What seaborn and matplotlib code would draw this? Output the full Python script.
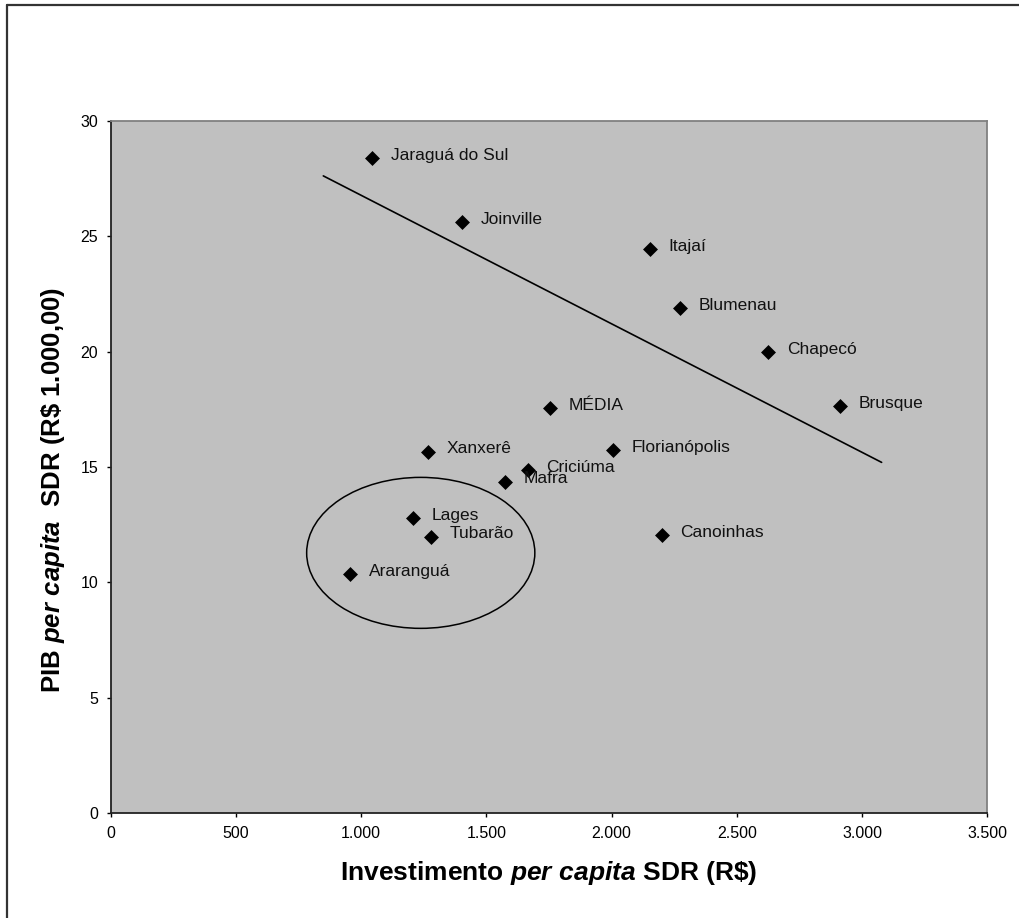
import matplotlib
matplotlib.use("Agg")
import matplotlib.pyplot as plt
from matplotlib.patches import Ellipse
from matplotlib.lines import Line2D
import seaborn as sns
import pandas as pd

# Regiões (SDR): investimento per capita (R$) x PIB per capita (R$ 1.000,00)
cities = ["Jaraguá do Sul", "Joinville", "Itajaí", "Blumenau", "Chapecó",
          "Brusque", "MÉDIA", "Florianópolis", "Xanxerê", "Criciúma",
          "Mafra", "Lages", "Tubarão", "Araranguá", "Canoinhas"]
investimento = [1043, 1403, 2153, 2273, 2625, 2911, 1754, 2004, 1268, 1665,
                1574, 1206, 1279, 955, 2200]
pib = [28.38, 25.61, 24.43, 21.87, 19.97, 17.65, 17.55, 15.73, 15.66, 14.87,
       14.36, 12.78, 11.98, 10.35, 12.05]

# reta de referência desenhada sobre o gráfico
trend_x = [849, 3078]
trend_y = [27.61, 15.20]

# grupo destacado (Lages, Tubarão, Araranguá)
group_center = (1238, 11.28)
group_size = (911, 6.54)

x_ticks = [0, 500, 1000, 1500, 2000, 2500, 3000, 3500]
x_tick_labels = ["0", "500", "1.000", "1.500", "2.000", "2.500", "3.000", "3.500"]
y_ticks = [0, 5, 10, 15, 20, 25, 30]
y_tick_labels = ["0", "5", "10", "15", "20", "25", "30"]

df = pd.DataFrame({"cidade": cities, "invest": investimento, "pib": pib})
trend = pd.DataFrame({"x": trend_x, "y": trend_y})

sns.set_theme(style="white")
plt.rcParams["font.family"] = ["Liberation Sans", "DejaVu Sans"]
plt.rcParams["mathtext.fontset"] = "custom"
plt.rcParams["mathtext.it"] = "Liberation Sans:italic:bold"
plt.rcParams["mathtext.rm"] = "Liberation Sans:bold"
plt.rcParams["mathtext.bf"] = "Liberation Sans:bold"

fig = plt.figure(figsize=(10.19, 9.18), dpi=100)
ax = fig.add_axes([0.1086, 0.1141, 0.8603, 0.7544])
ax.set_facecolor("#C0C0C0")

sns.lineplot(data=trend, x="x", y="y", ax=ax, color="black", linewidth=1.2,
             estimator=None, sort=False)
sns.scatterplot(data=df, x="invest", y="pib", ax=ax, marker="D", s=58,
                color="black", linewidth=0, zorder=3)

for name, xv, yv in zip(cities, investimento, pib):
    ax.annotate(name, (xv, yv), xytext=(13.5, 2), textcoords="offset points",
                va="center", ha="left", fontsize=12.5, color="#111111")

ax.add_patch(Ellipse(group_center, group_size[0], group_size[1],
                     fill=False, edgecolor="black", linewidth=1.1))

ax.set_xlim(0, 3500)
ax.set_ylim(0, 30)
ax.set_xticks(x_ticks)
ax.set_xticklabels(x_tick_labels)
ax.set_yticks(y_ticks)
ax.set_yticklabels(y_tick_labels)
ax.tick_params(axis="both", direction="out", length=3, width=1,
               color="black", labelsize=11.5, labelcolor="black",
               bottom=True, left=True)
ax.tick_params(axis="x", pad=6)
ax.tick_params(axis="y", pad=6)

for side in ("left", "bottom"):
    ax.spines[side].set_color("#222222")
    ax.spines[side].set_linewidth(1.3)
for side in ("top", "right"):
    ax.spines[side].set_color("#808080")
    ax.spines[side].set_linewidth(1.3)

ax.set_xlabel(r"Investimento $per\ capita$ SDR (R\$)", fontsize=19,
              fontweight="bold", color="black")
ax.set_ylabel(r"PIB $per\ capita$  SDR (R\$ 1.000,00)", fontsize=18.5,
              fontweight="bold", color="black")
ax.xaxis.set_label_coords(0.5, -0.066)
ax.yaxis.set_label_coords(-0.050, 0.467)

# moldura externa do gráfico
fig.add_artist(Line2D([7 / 1019, 7 / 1019], [0, 1 - 5 / 918],
                      transform=fig.transFigure, color="#333333", linewidth=1.6))
fig.add_artist(Line2D([7 / 1019, 1], [1 - 5 / 918, 1 - 5 / 918],
                      transform=fig.transFigure, color="#333333", linewidth=1.6))

fig.savefig("out.png", dpi=100, facecolor="white")
